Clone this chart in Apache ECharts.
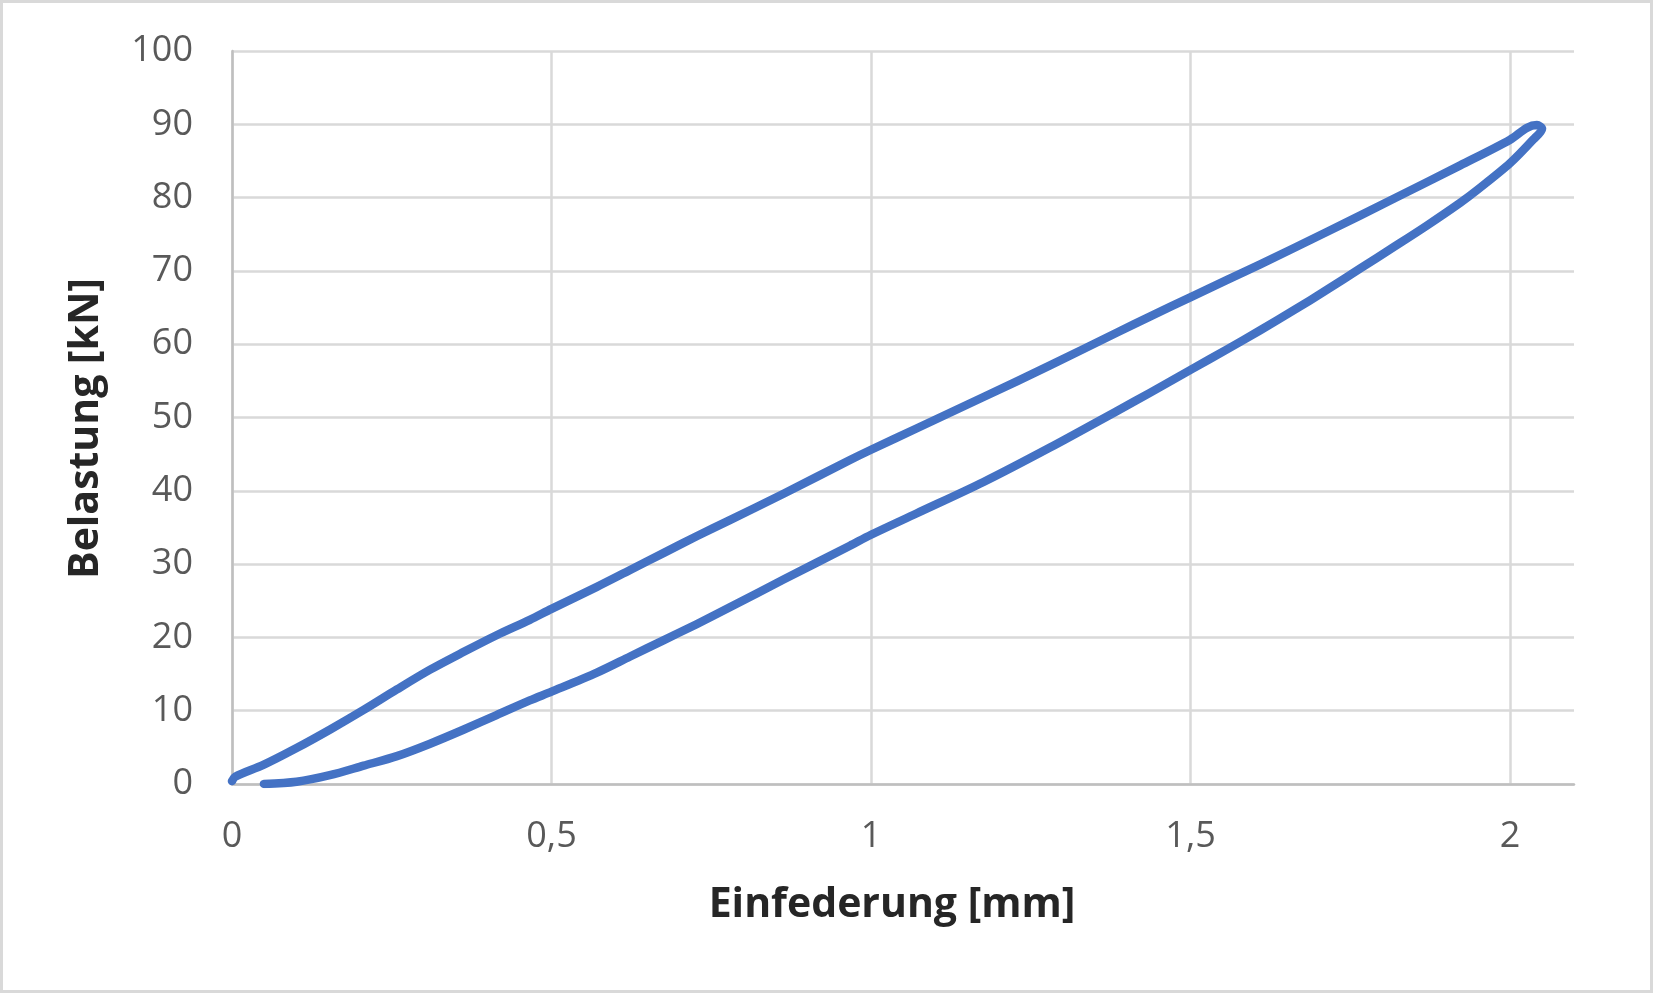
<!DOCTYPE html>
<html>
<head>
<meta charset="utf-8">
<script src="https://cdn.jsdelivr.net/npm/echarts@6/dist/echarts.min.js"></script>
<style>
  html, body { margin: 0; padding: 0; background: #fff; }
  #wrap { position: relative; width: 1653px; height: 993px; }
  #wrap::after {
    content: ""; position: absolute; left: 0; top: 0; right: 0; bottom: 0;
    border: 3px solid #d9d9d9; pointer-events: none;
  }
  #chart { width: 1653px; height: 993px; }
</style>
</head>
<body>
<div id="wrap"><div id="chart"></div></div>
<script>
// Belastung (kN) ueber Einfederung (mm), one loop: loading branch up, unloading branch down
const loadX = [0, 0.005, 0.049, 0.101, 0.153, 0.206, 0.258, 0.310, 0.362, 0.414, 0.466, 0.5,
  0.571, 0.623, 0.675, 0.727, 0.779, 0.863, 0.967, 1.0, 1.071, 1.176, 1.280, 1.385, 1.437,
  1.502, 1.609, 1.713, 1.817, 1.922, 2.0, 2.026, 2.042, 2.05];
const loadY = [0.4, 1.0, 2.6, 4.9, 7.4, 10.1, 12.9, 15.6, 18.0, 20.3, 22.4, 23.9,
  26.9, 29.2, 31.5, 33.8, 36.0, 39.6, 44.2, 45.6, 48.5, 52.8, 57.1, 61.6, 63.8,
  66.5, 70.9, 75.3, 79.8, 84.4, 87.9, 89.5, 89.9, 89.4];
const unloadX = [2.036, 2.0, 1.948, 1.922, 1.870, 1.817, 1.765, 1.713, 1.661, 1.609, 1.557,
  1.502, 1.437, 1.385, 1.280, 1.176, 1.071, 1.0, 0.967, 0.863, 0.779, 0.727, 0.675, 0.623,
  0.571, 0.5, 0.466, 0.414, 0.362, 0.310, 0.258, 0.206, 0.153, 0.101, 0.05];
const unloadY = [87.9, 84.7, 81.0, 79.3, 76.2, 73.2, 70.3, 67.4, 64.6, 61.9, 59.3,
  56.6, 53.4, 50.9, 45.9, 41.2, 36.9, 34.0, 32.5, 27.9, 24.1, 21.8, 19.6, 17.4,
  15.2, 12.6, 11.4, 9.4, 7.4, 5.5, 3.8, 2.5, 1.2, 0.3, 0.0];

const xTicks = [0, 0.5, 1, 1.5, 2];

const points = loadX.map((x, i) => [x, loadY[i]])
  .concat(unloadX.map((x, i) => [x, unloadY[i]]));

const tickFont = { color: "#595959", fontSize: 36, fontFamily: "Open Sans" };
const nameFont = { color: "#262626", fontSize: 41, fontWeight: "bold", fontFamily: "Open Sans" };

const chart = echarts.init(document.getElementById("chart"));
chart.setOption({
  animation: false,
  grid: { left: 232, right: 79, top: 51, bottom: 209 },
  xAxis: {
    type: "value",
    min: 0,
    max: 2.1,
    interval: 0.5,
    name: "Einfederung [mm]",
    nameLocation: "middle",
    nameGap: 101,
    nameTextStyle: Object.assign({ padding: [0, 22, 0, 0] }, nameFont),
    axisLine: { show: true, lineStyle: { color: "#bfbfbf", width: 2.5 } },
    axisTick: { show: false },
    axisLabel: Object.assign({
      margin: 35,
      showMaxLabel: false,
      formatter: function (v) {
        return xTicks.includes(v) ? String(v).replace(".", ",") : "";
      },
    }, tickFont),
    splitLine: { show: true, showMaxLine: false, lineStyle: { color: "#d9d9d9", width: 2.5 } },
  },
  yAxis: {
    type: "value",
    min: 0,
    max: 100,
    interval: 10,
    name: "Belastung [kN]",
    nameLocation: "middle",
    nameGap: 125,
    nameTextStyle: Object.assign({ padding: [0, 22, 0, 0] }, nameFont),
    axisLine: { show: true, lineStyle: { color: "#bfbfbf", width: 2.5 } },
    axisTick: { show: false },
    axisLabel: Object.assign({ margin: 39 }, tickFont),
    splitLine: { show: true, lineStyle: { color: "#d9d9d9", width: 2.5 } },
  },
  series: [
    {
      type: "line",
      data: points,
      showSymbol: false,
      smooth: 0.3,
      lineStyle: { color: "#4472c4", width: 8.5, cap: "round", join: "round" },
    },
  ],
});
</script>
</body>
</html>
